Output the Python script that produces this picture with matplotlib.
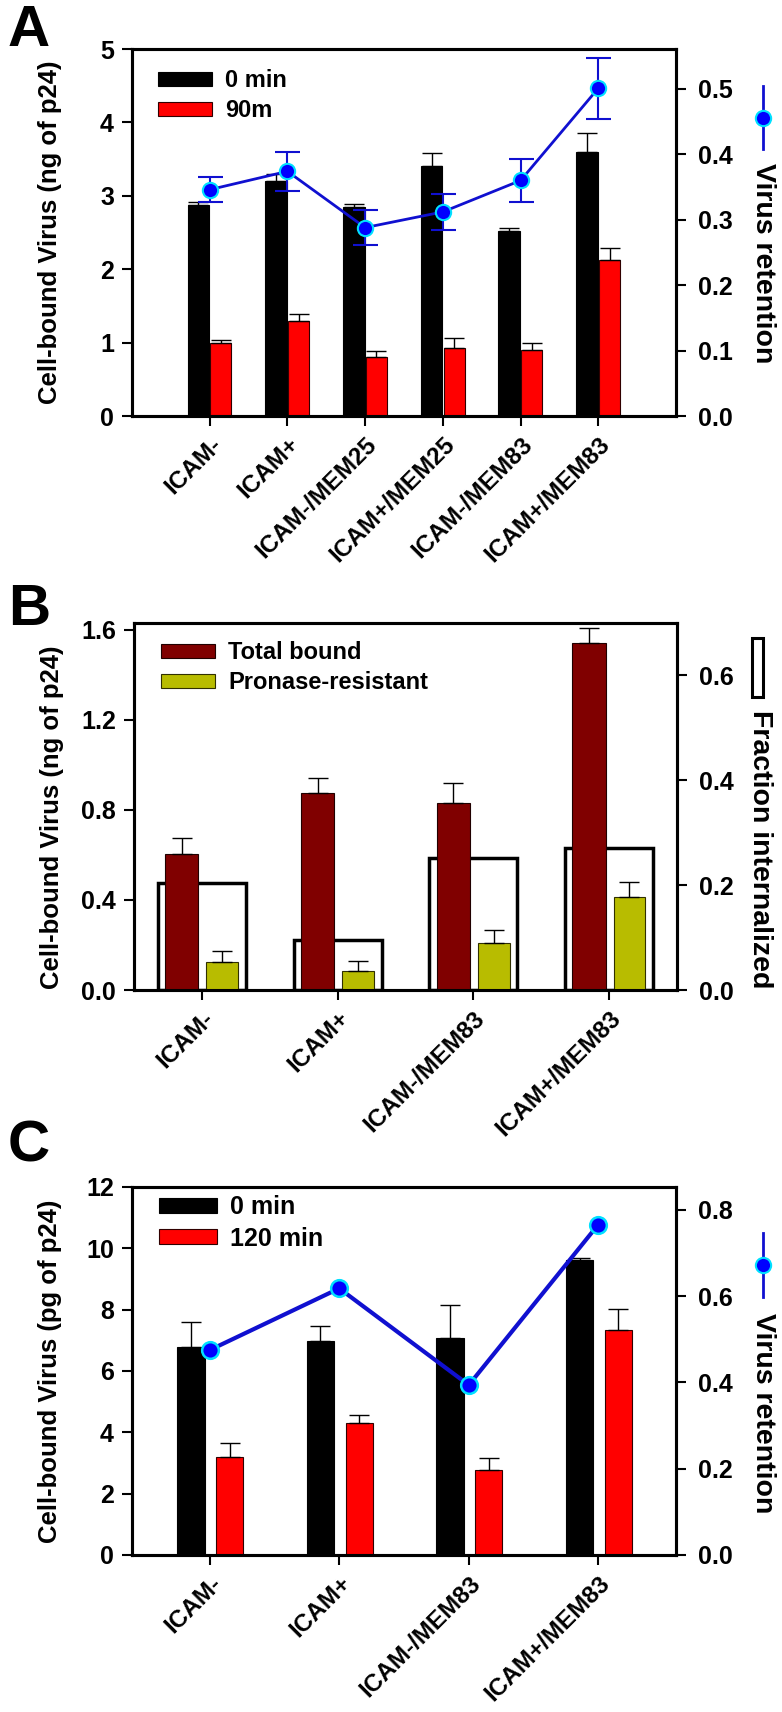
import numpy as np
import matplotlib.pyplot as plt
from matplotlib.lines import Line2D
from matplotlib.patches import Rectangle

plt.rcParams['font.family'] = ['Liberation Sans', 'DejaVu Sans']
plt.rcParams['font.weight'] = 'bold'

# Panel A data
cats_a = ['ICAM-', 'ICAM+', 'ICAM-/MEM25', 'ICAM+/MEM25', 'ICAM-/MEM83', 'ICAM+/MEM83']
a_0min = [2.87, 3.20, 2.85, 3.40, 2.52, 3.59]
a_0min_err = [0.04, 0.10, 0.04, 0.18, 0.04, 0.27]
a_90m = [0.99, 1.29, 0.81, 0.92, 0.90, 2.12]
a_90m_err = [0.05, 0.10, 0.08, 0.14, 0.09, 0.17]
a_ret = [0.346, 0.374, 0.288, 0.312, 0.360, 0.501]
a_ret_err = [0.019, 0.030, 0.027, 0.027, 0.033, 0.047]

# Panel B data
cats_b = ['ICAM-', 'ICAM+', 'ICAM-/MEM83', 'ICAM+/MEM83']
b_total = [0.606, 0.877, 0.831, 1.539]
b_total_err = [0.071, 0.066, 0.088, 0.068]
b_pron = [0.123, 0.086, 0.208, 0.415]
b_pron_err = [0.051, 0.041, 0.059, 0.064]
b_frac = [0.204, 0.096, 0.251, 0.270]

# Panel C data
cats_c = ['ICAM-', 'ICAM+', 'ICAM-/MEM83', 'ICAM+/MEM83']
c_0min = [6.79, 6.98, 7.07, 9.63]
c_0min_err = [0.81, 0.49, 1.07, 0.05]
c_120 = [3.20, 4.29, 2.77, 7.35]
c_120_err = [0.44, 0.29, 0.38, 0.66]
c_ret = [0.475, 0.618, 0.394, 0.766]

W, H = 782, 1712
fig = plt.figure(figsize=(W / 100, H / 100), dpi=100)

TICK_FS = 18
XLAB_FS = 17.5
YLAB_FS = 18.5


def px_axes(left, right, top, bottom):
    return fig.add_axes([left / W, 1 - bottom / H, (right - left) / W, (bottom - top) / H])


def style(ax, ax2, cats, xlim, ylim, yticks, ylim2, yticks2, fmt2):
    for a in (ax, ax2):
        for s in a.spines.values():
            s.set_linewidth(2.2)
    ax.set_xlim(*xlim)
    ax.set_ylim(*ylim)
    ax.set_yticks(yticks)
    ax.set_xticks(np.arange(len(cats)))
    ax.set_xticklabels(cats, rotation=45, ha='right', va='top', rotation_mode='anchor',
                       fontsize=XLAB_FS, fontweight='bold')
    ax.tick_params(axis='y', direction='out', length=7, width=1.5, labelsize=TICK_FS, pad=6)
    ax.tick_params(axis='x', direction='out', length=7, width=1.5, pad=5)
    ax2.set_ylim(*ylim2)
    ax2.set_yticks(yticks2)
    ax2.set_yticklabels([fmt2.format(v) for v in yticks2])
    ax2.tick_params(axis='y', direction='out', length=7, width=1.5, labelsize=TICK_FS, pad=9)
    ax.set_zorder(ax2.get_zorder() + 1)
    ax.patch.set_visible(False)


def right_line_key(y_top, y_bot, y_text, label):
    x = 763 / W
    fig.add_artist(Line2D([x, x], [1 - y_top / H, 1 - y_bot / H], color='#1010d0', lw=2))
    fig.add_artist(Line2D([x], [1 - (y_top + y_bot) / 2 / H], marker='o', ms=11,
                          mfc='#0000ff', mec='#00e0ff', mew=1.5))
    fig.text(x, 1 - y_text / H, label, rotation=-90, ha='center', va='top',
             fontsize=20.5, fontweight='bold')


err_kw = dict(ecolor='black', elinewidth=1.0, capsize=7, capthick=1.0)
leg_kw = dict(frameon=False, handlelength=2.3, handleheight=0.52, handletextpad=0.55,
              labelspacing=0.3, borderpad=0, borderaxespad=0)

# ---------------- Panel A ----------------
ax = px_axes(132, 676, 49, 416)
ax2 = ax.twinx()
x = np.arange(len(cats_a))
ax.bar(x - 0.145, a_0min, 0.28, color='black', edgecolor='black', lw=0.8,
       yerr=[np.zeros(6), a_0min_err], error_kw=err_kw, label='0 min')
ax.bar(x + 0.145, a_90m, 0.27, color='#ff0000', edgecolor='#300000', lw=0.8,
       yerr=[np.zeros(6), a_90m_err], error_kw=err_kw, label='90m')
ax2.errorbar(x, a_ret, yerr=a_ret_err, color='#1010d0', lw=2, marker='o', ms=11,
             mfc='#0000ff', mec='#00e0ff', mew=1.5, ecolor='#1010d0', elinewidth=1.5,
             capsize=9, capthick=1.5, zorder=5)
ax.set_ylabel('Cell-bound Virus (ng of p24)', fontsize=YLAB_FS, fontweight='bold')
style(ax, ax2, cats_a, (-1, 6), (0, 5), range(6), (0, 0.561),
      [0, 0.1, 0.2, 0.3, 0.4, 0.5], '{:.1f}')
ax.yaxis.set_label_coords(-0.128, 0.5)
# keep line above bars
ax2.set_zorder(ax.get_zorder() + 1)
ax2.patch.set_visible(False)
ax.legend(loc='upper left', bbox_to_anchor=(0.048, 0.945), fontsize=17, **leg_kw)
right_line_key(86, 149, 163, 'Virus retention')
fig.text(8 / W, 1 - 4 / H, 'A', fontsize=42, fontweight='bold', va='top', ha='left')

# ---------------- Panel B ----------------
ax = px_axes(134, 677, 623, 990)
ax2 = ax.twinx()
x = np.arange(len(cats_b))
ax2.bar(x, b_frac, 0.65, facecolor='none', edgecolor='black', lw=2.5)
ax.bar(x - 0.148, b_total, 0.245, color='#800000', edgecolor='#200000', lw=0.8,
       yerr=[np.zeros(4), b_total_err], error_kw=err_kw, label='Total bound')
ax.bar(x + 0.15, b_pron, 0.235, color='#b8bc00', edgecolor='#303000', lw=0.8,
       yerr=[np.zeros(4), b_pron_err], error_kw=err_kw, label='Pronase-resistant')
ax.set_ylabel('Cell-bound Virus (ng of p24)', fontsize=YLAB_FS, fontweight='bold')
style(ax, ax2, cats_b, (-0.5, 3.5), (0, 1.63), [0, 0.4, 0.8, 1.2, 1.6], (0, 0.70),
      [0, 0.2, 0.4, 0.6], '{:.1f}')
ax.set_yticklabels(['0.0', '0.4', '0.8', '1.2', '1.6'])
ax.yaxis.set_label_coords(-0.128, 0.47)
ax.legend(loc='upper left', bbox_to_anchor=(0.05, 0.95), fontsize=17, **leg_kw)
fig.add_artist(Rectangle((752 / W, 1 - 697 / H), 11 / W, 59 / H, facecolor='white',
                         edgecolor='black', lw=2.2))
fig.text(760 / W, 1 - 710 / H, 'Fraction internalized', rotation=-90, ha='center',
         va='top', fontsize=20.5, fontweight='bold')
fig.text(8 / W, 1 - 583 / H, 'B', fontsize=42, fontweight='bold', va='top', ha='left')

# ---------------- Panel C ----------------
ax = px_axes(132, 676, 1187, 1555)
ax2 = ax.twinx()
x = np.arange(len(cats_c))
ax.bar(x - 0.145, c_0min, 0.21, color='black', edgecolor='black', lw=0.8,
       yerr=[np.zeros(4), c_0min_err], error_kw=err_kw, label='0 min')
ax.bar(x + 0.155, c_120, 0.21, color='#ff0000', edgecolor='#300000', lw=0.8,
       yerr=[np.zeros(4), c_120_err], error_kw=err_kw, label='120 min')
ax2.plot(x, c_ret, color='#1010d0', lw=3, marker='o', ms=12, mfc='#0000ff',
         mec='#00e0ff', mew=1.8, zorder=5)
ax.set_ylabel('Cell-bound Virus (pg of p24)', fontsize=YLAB_FS, fontweight='bold')
style(ax, ax2, cats_c, (-0.6, 3.6), (0, 12), range(0, 13, 2), (0, 0.853),
      [0, 0.2, 0.4, 0.6, 0.8], '{:.1f}')
ax.yaxis.set_label_coords(-0.128, 0.5)
ax2.set_zorder(ax.get_zorder() + 1)
ax2.patch.set_visible(False)
ax.legend(loc='upper left', bbox_to_anchor=(0.05, 0.978), fontsize=18, **leg_kw)
right_line_key(1233, 1297, 1313, 'Virus retention')
fig.text(8 / W, 1 - 1120 / H, 'C', fontsize=42, fontweight='bold', va='top', ha='left')

fig.savefig('out.png', dpi=100)
